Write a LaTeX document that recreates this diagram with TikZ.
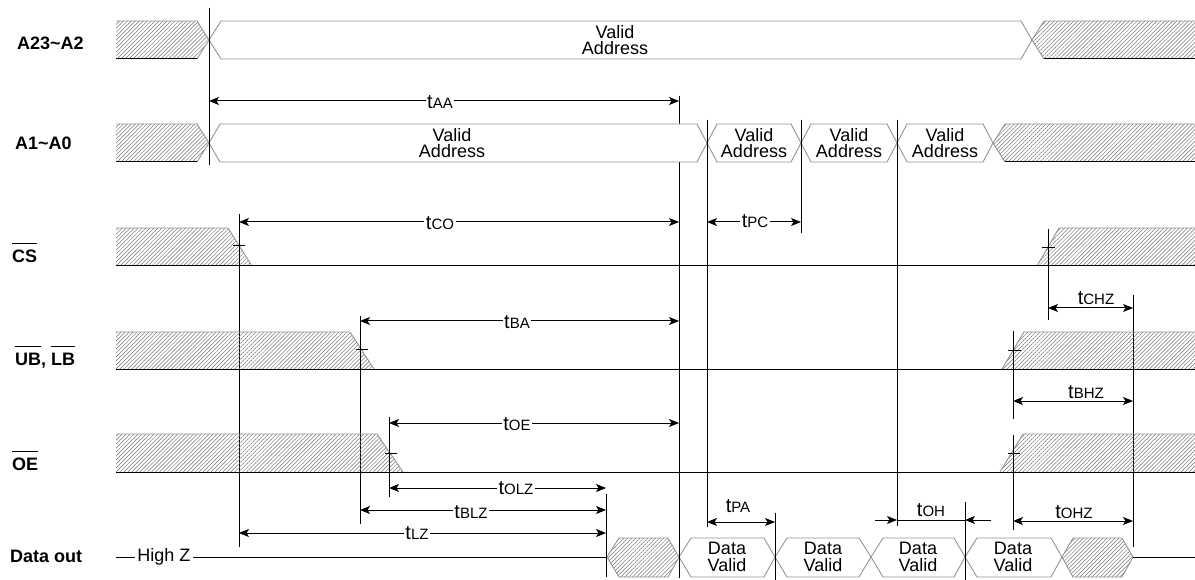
\documentclass[tikz,border=0pt]{standalone}
\usepackage{fontspec}
\setmainfont{Liberation Sans}
\usetikzlibrary{patterns,patterns.meta,arrows.meta}
\newcommand{\tsub}[1]{{\fontsize{20}{20}\selectfont t}{\fontsize{15}{15}\selectfont #1}}
\newcommand{\ovl}[1]{\setbox0\hbox{#1}\rlap{\raisebox{\dimexpr\ht0+6pt\relax}{\rule{\wd0}{1.4pt}}}\box0}
\tikzset{
  sig/.style={line width=1pt, black},
  vline/.style={line width=1pt, black},
  edgegray/.style={draw=black!42, line width=0.9pt},
  hatch/.style={pattern={Lines[angle=45,distance=2.8pt,line width=0.5pt]}, pattern color=black!55},
  vbox/.style={draw=black!42, fill=white, line width=0.9pt},
  tick/.style={line width=0.8pt, black},
  dimarr/.style={line width=1pt, {Stealth[length=10pt,width=8pt,inset=2.5pt]}-{Stealth[length=10pt,width=8pt,inset=2.5pt]}},
  onearr/.style={line width=1pt, -{Stealth[length=10pt,width=8pt,inset=2.5pt]}},
  lbl/.style={font=\bfseries\fontsize{18}{18}\selectfont, anchor=west, inner sep=0pt},
  vtxt/.style={font=\fontsize{18}{16.5}\selectfont, align=center, inner sep=0pt},
  onl/.style={fill=white, inner sep=1.5pt},
  abv/.style={anchor=base, inner sep=0pt},
}
\begin{document}
\begin{tikzpicture}[x=1pt,y=-1pt]
\useasboundingbox (0,0) rectangle (1195,580);

% ---------- vertical reference lines (behind) ----------
\draw[vline] (209,8) -- (209,165);
\draw[vline] (239,214) -- (239,547);
\draw[vline] (360,316) -- (360,524);
\draw[vline] (389,417) -- (389,497);
\draw[vline] (606,494) -- (606,577);
\draw[vline] (679,96) -- (679,578);
\draw[vline] (707,120) -- (707,527);
\draw[vline] (801,120) -- (801,233);
\draw[vline] (897,120) -- (897,526);
\draw[vline] (775,513) -- (775,580);
\draw[vline] (965,502) -- (965,580);
\draw[vline] (1048,229) -- (1048,320);
\draw[vline] (1133,295) -- (1133,547);
\draw[vline] (1013,331) -- (1013,419);
\draw[vline] (1013,435) -- (1013,530);

% ---------- signal labels ----------
\node[lbl] (lA23) at (17,43) {A23\textasciitilde A2};
\node[lbl] (lA1) at (15,143) {A1\textasciitilde A0};
\node[lbl] (lCS) at (12,253) {\ovl{CS}};
\node[lbl] (lUB) at (15,357) {\ovl{UB}, \ovl{LB}};
\node[lbl] (lOE) at (12,461) {\ovl{OE}};
\node[lbl] (lDO) at (10,556) {Data out};

% ---------- A23~A2 ----------
\fill[hatch] (116,21) -- (197,21) -- (209,40) -- (197,59) -- (116,59) -- cycle;
\draw[edgegray] (116,21) -- (197,21) -- (209,40) -- (197,59);
\draw[sig] (116,59) -- (197,59);
\draw[vbox] (209,40) -- (221,21) -- (1021,21) -- (1032,40) -- (1021,59) -- (221,59) -- cycle;
\node[vtxt] (va1) at (615,40) {Valid\\Address};
\fill[hatch] (1032,40) -- (1044,21) -- (1195,21) -- (1195,59) -- (1044,59) -- cycle;
\draw[edgegray] (1195,21) -- (1044,21) -- (1032,40) -- (1044,59);
\draw[sig] (1044,59) -- (1195,59);

% ---------- A1~A0 ----------
\fill[hatch] (116,124) -- (197,124) -- (209,143) -- (197,162) -- (116,162) -- cycle;
\draw[edgegray] (116,124) -- (197,124) -- (209,143) -- (197,162);
\draw[sig] (116,162) -- (197,162);
\draw[vbox] (209,143) -- (220,124) -- (697,124) -- (707,143) -- (697,162) -- (220,162) -- cycle;
\draw[vbox] (707,143) -- (717,124) -- (791,124) -- (801,143) -- (791,162) -- (717,162) -- cycle;
\draw[vbox] (801,143) -- (811,124) -- (887,124) -- (897,143) -- (887,162) -- (811,162) -- cycle;
\draw[vbox] (897,143) -- (907,124) -- (983,124) -- (993,143) -- (983,162) -- (907,162) -- cycle;
\node[vtxt] (vb1) at (452,143) {Valid\\Address};
\node[vtxt] (vb2) at (754,143) {Valid\\Address};
\node[vtxt] (vb3) at (849,143) {Valid\\Address};
\node[vtxt] (vb4) at (945,143) {Valid\\Address};
\fill[hatch] (993,143) -- (1005,124) -- (1195,124) -- (1195,162) -- (1005,162) -- cycle;
\draw[edgegray] (1195,124) -- (1005,124) -- (993,143) -- (1005,162);
\draw[sig] (1005,162) -- (1195,162);

% ---------- CS ----------
\fill[hatch] (116,228) -- (228,228) -- (252,266) -- (116,266) -- cycle;
\draw[edgegray] (116,228) -- (228,228) -- (252,266);
\fill[hatch] (1037,266) -- (1059,228) -- (1195,228) -- (1195,266) -- cycle;
\draw[edgegray] (1037,266) -- (1059,228) -- (1195,228);
\draw[sig] (116,266) -- (1195,266);

% ---------- UB, LB ----------
\fill[hatch] (116,332) -- (350,332) -- (374,369) -- (116,369) -- cycle;
\draw[edgegray] (116,332) -- (350,332) -- (374,369);
\fill[hatch] (1002,369) -- (1024,332) -- (1195,332) -- (1195,369) -- cycle;
\draw[edgegray] (1002,369) -- (1024,332) -- (1195,332);
\draw[sig] (116,369) -- (1195,369);

% ---------- OE ----------
\fill[hatch] (116,434) -- (377,434) -- (403,472) -- (116,472) -- cycle;
\draw[edgegray] (116,434) -- (377,434) -- (403,472);
\fill[hatch] (1000,472) -- (1023,434) -- (1195,434) -- (1195,472) -- cycle;
\draw[edgegray] (1000,472) -- (1023,434) -- (1195,434);
\draw[sig] (116,472) -- (1195,472);

% ---------- Data out ----------
\draw[sig] (116,557) -- (607,557);
\node[fill=white, inner sep=2pt, font=\fontsize{18}{18}\selectfont] (hz) at (164,557) {High Z};
\fill[hatch] (607,557) -- (619,538) -- (668,538) -- (679,557) -- (668,577) -- (619,577) -- cycle;
\draw[edgegray] (607,557) -- (619,538) -- (668,538) -- (679,557) -- (668,577) -- (619,577) -- cycle;
\draw[vbox] (679,557) -- (691,538) -- (764,538) -- (775,557) -- (764,577) -- (691,577) -- cycle;
\draw[vbox] (775,557) -- (787,538) -- (859,538) -- (871,557) -- (859,577) -- (787,577) -- cycle;
\draw[vbox] (871,557) -- (883,538) -- (954,538) -- (965,557) -- (954,577) -- (883,577) -- cycle;
\draw[vbox] (965,557) -- (977,538) -- (1051,538) -- (1062,557) -- (1051,577) -- (977,577) -- cycle;
\node[vtxt] (d1) at (727,557) {Data\\Valid};
\node[vtxt] (d2) at (823,557) {Data\\Valid};
\node[vtxt] (d3) at (918,557) {Data\\Valid};
\node[vtxt] (d4) at (1013,557) {Data\\Valid};
\fill[hatch] (1062,557) -- (1073,538) -- (1122,538) -- (1133,557) -- (1122,577) -- (1073,577) -- cycle;
\draw[edgegray] (1062,557) -- (1073,538) -- (1122,538) -- (1133,557) -- (1122,577) -- (1073,577) -- cycle;
\draw[sig] (1133,557) -- (1195,557);

% ---------- edge markers redrawn on top ----------
\draw[vline] (209,8) -- (209,165);
\draw[vline] (707,120) -- (707,165);
\draw[vline] (801,120) -- (801,165);
\draw[vline] (897,120) -- (897,165);
\draw[vline] (239,214) -- (239,266);
\draw[vline] (360,316) -- (360,369);
\draw[vline] (389,417) -- (389,472);
\draw[vline] (1048,229) -- (1048,266);
\draw[vline] (1013,331) -- (1013,419);
\draw[vline] (1013,435) -- (1013,530);
\draw[vline] (606,538) -- (606,577);
\draw[vline] (679,538) -- (679,578);
\draw[vline] (775,538) -- (775,580);
\draw[vline] (965,538) -- (965,580);
\draw[tick] (233,245) -- (245,245);
\draw[tick] (356,349) -- (368,349);
\draw[tick] (385,453) -- (397,453);
\draw[tick] (1042,247) -- (1055,247);
\draw[tick] (1008,350) -- (1021,350);
\draw[tick] (1008,453) -- (1020,453);

% ---------- timing dimensions ----------
\draw[dimarr] (209,101) -- (679,101);
\node[onl] (tAA) at (440,102) {\tsub{AA}};
\draw[dimarr] (239,222) -- (679,222);
\node[onl] (tCO) at (440,223) {\tsub{CO}};
\draw[dimarr] (707,222) -- (801,222);
\node[onl] (tPC) at (755,221) {\tsub{PC}};
\draw[dimarr] (360,321) -- (679,321);
\node[onl] (tBA) at (517,322) {\tsub{BA}};
\draw[dimarr] (389,423) -- (679,423);
\node[onl] (tOE) at (517,424) {\tsub{OE}};
\draw[dimarr] (389,488) -- (606,488);
\node[onl] (tOLZ) at (516,488) {\tsub{OLZ}};
\draw[dimarr] (360,510) -- (606,510);
\node[onl] (tBLZ) at (471,512) {\tsub{BLZ}};
\draw[dimarr] (239,533) -- (606,533);
\node[onl] (tLZ) at (417,533) {\tsub{LZ}};

\draw[dimarr] (707,522) -- (775,522);
\node[abv] (tPA) at (738,512) {\tsub{PA}};
\draw[onearr] (875,520) -- (897,520);
\draw[line width=1pt] (897,520) -- (965,520);
\draw[onearr] (991,520) -- (965,520);
\node[abv] (tOH) at (931,516) {\tsub{OH}};
\draw[dimarr] (1048,308) -- (1133,308);
\node[abv] (tCHZ) at (1096,305) {\tsub{CHZ}};
\draw[dimarr] (1013,401) -- (1133,401);
\node[abv] (tBHZ) at (1086,398) {\tsub{BHZ}};
\draw[dimarr] (1013,521) -- (1133,521);
\node[abv] (tOHZ) at (1074,518) {\tsub{OHZ}};
\end{tikzpicture}
\end{document}
